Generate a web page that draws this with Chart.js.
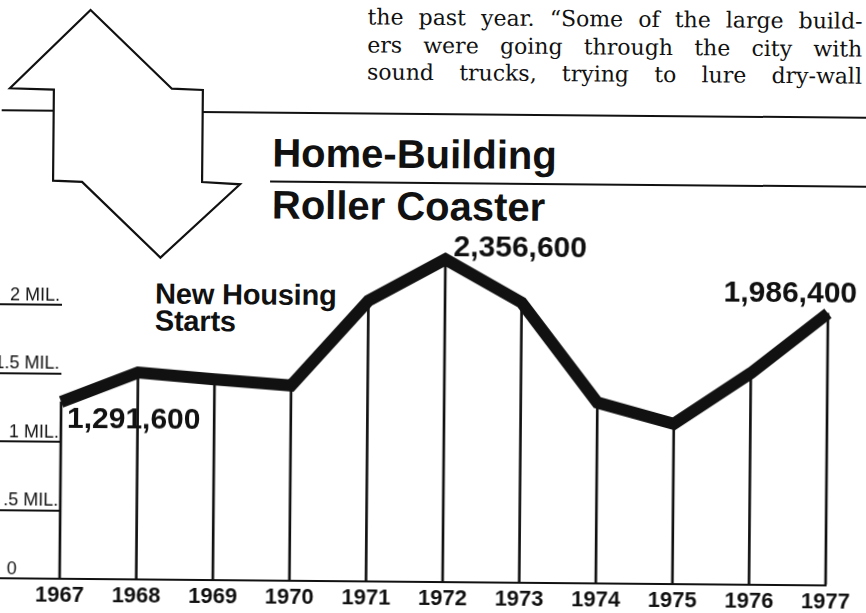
<!DOCTYPE html>
<html>
<head>
<meta charset="utf-8">
<title>Home-Building Roller Coaster</title>
<script src="https://cdn.jsdelivr.net/npm/chart.js@4.4.1/dist/chart.umd.min.js"></script>
<style>
  html, body { margin: 0; padding: 0; background: #fff; overflow: hidden; }
  #page {
    position: relative; width: 866px; height: 613px;
    transform: rotate(0.5deg); transform-origin: 433px 306px;
    color: #111;
  }
  #page > * { position: absolute; }
  .copy {
    left: 365px; width: 495px; height: 22px; line-height: 22px;
    font: 22px "DejaVu Serif", serif;
    white-space: nowrap; text-align: justify; text-align-last: justify;
  }
  .rule { height: 0; border-top: 2px solid #111; }
  .headline {
    left: 271px; font: bold 40px "Liberation Sans", Arial, sans-serif;
    line-height: 40px; white-space: nowrap;
  }
  .series-name {
    left: 155px; top: 283px; font: bold 29px "Liberation Sans", Arial, sans-serif;
    line-height: 27px; letter-spacing: -0.2px;
  }
  #chart { left: 0; top: 0; }
</style>
</head>
<body>
<div id="page">
  <div class="copy" style="top:5px">the past year. “Some of the large build-</div>
  <div class="copy" style="top:33px">ers were going through the city with</div>
  <div class="copy" style="top:60px">sound trucks, trying to lure dry-wall</div>

  <div class="rule" style="left:0;top:113px;width:880px"></div>
  <div class="rule" style="left:269px;top:182px;width:611px"></div>

  <!-- up/down arrow -->
  <svg width="260" height="270" style="left:0;top:0">
    <polygon points="88,13 170,91 201,92 201,184 239,186 160,260 81,185 52,184 52,93 8,92"
             fill="#fff" stroke="#111" stroke-width="2.2" stroke-linejoin="miter"/>
  </svg>

  <div class="headline" style="top:134px">Home-Building</div>
  <div class="headline" style="top:186px">Roller Coaster</div>
  <div class="series-name">New Housing<br>Starts</div>

  <canvas id="chart" width="866" height="613"></canvas>
</div>

<script>
// Housing starts per year
const years = ["1967", "1968", "1969", "1970", "1971", "1972", "1973", "1974", "1975", "1976", "1977"];
const housingStarts = [1291600, 1510000, 1465000, 1425000, 2050000, 2356600, 2045000, 1320000, 1170000, 1545000, 1986400];

// Left axis marks
const yTickValues = [0, 500000, 1000000, 1500000, 2000000];
const yTickLabels = ["0", ".5 MIL.", "1 MIL.", "1.5 MIL.", "2 MIL."];

// Years whose value is printed next to the line
const labelledYears = ["1967", "1972", "1977"];

const ink = "#111";
const sans = '"Liberation Sans", Arial, sans-serif';

// where each printed value sits relative to its point
const labelPlacement = {
  "1967": { dx: 6, dy: 26, align: "left" },
  "1972": { dx: 8, dy: -3, align: "left" },
  "1977": { dx: 29, dy: -11, align: "right" },
};

const valueLabels = {
  id: "valueLabels",
  afterDatasetsDraw(chart) {
    const meta = chart.getDatasetMeta(0);
    const ctx = chart.ctx;
    ctx.save();
    ctx.font = "bold 30px " + sans;
    ctx.fillStyle = ink;
    ctx.textBaseline = "alphabetic";
    labelledYears.forEach((year) => {
      const i = years.indexOf(year);
      const pt = meta.data[i];
      const place = labelPlacement[year];
      ctx.textAlign = place.align;
      ctx.fillText(housingStarts[i].toLocaleString("en-US"), pt.x + place.dx, pt.y + place.dy);
    });
    ctx.restore();
  },
};

// the zero label sits out at the left edge rather than against the axis
function yLabel(value) {
  const text = yTickLabels[yTickValues.indexOf(value)];
  return value === 0 ? text + "\u2003\u2003 " : text;
}

new Chart(document.getElementById("chart"), {
  data: {
    labels: years,
    datasets: [
      {
        type: "line",
        data: housingStarts,
        borderColor: ink,
        borderWidth: 12,
        borderJoinStyle: "miter",
        borderCapStyle: "butt",
        pointRadius: 0,
        tension: 0,
        clip: false,
        order: 0,
      },
      {
        // thin drop lines from each year's value down to zero
        type: "bar",
        data: housingStarts,
        backgroundColor: ink,
        barThickness: 2,
        clip: false,
        order: 1,
      },
    ],
  },
  options: {
    responsive: false,
    animation: false,
    devicePixelRatio: 1,
    layout: { padding: { top: 239.5, right: 38, left: 0, bottom: 0 } },
    plugins: { legend: { display: false }, tooltip: { enabled: false } },
    scales: {
      x: {
        type: "category",
        offset: false,
        grid: { display: true, offset: false, drawOnChartArea: false, drawTicks: false },
        border: { display: true, color: ink, width: 2 },
        ticks: {
          color: ink,
          font: { family: sans, size: 22, weight: "bold" },
          padding: 4,
          maxRotation: 0,
          autoSkip: false,
        },
        afterFit: (scale) => { scale.height = 31; },
      },
      y: {
        min: 0,
        max: 2500000,
        afterBuildTicks: (scale) => {
          scale.ticks = yTickValues.map((v) => ({ value: v }));
        },
        grid: { drawOnChartArea: false, drawTicks: true, tickLength: 62, color: ink, lineWidth: 2 },
        border: { display: false },
        ticks: {
          color: ink,
          font: { family: sans, size: 18 },
          padding: -60,
          labelOffset: -9,
          callback: yLabel,
        },
        afterFit: (scale) => { scale.width = 62; },
      },
    },
  },
  plugins: [valueLabels],
});
</script>
</body>
</html>
